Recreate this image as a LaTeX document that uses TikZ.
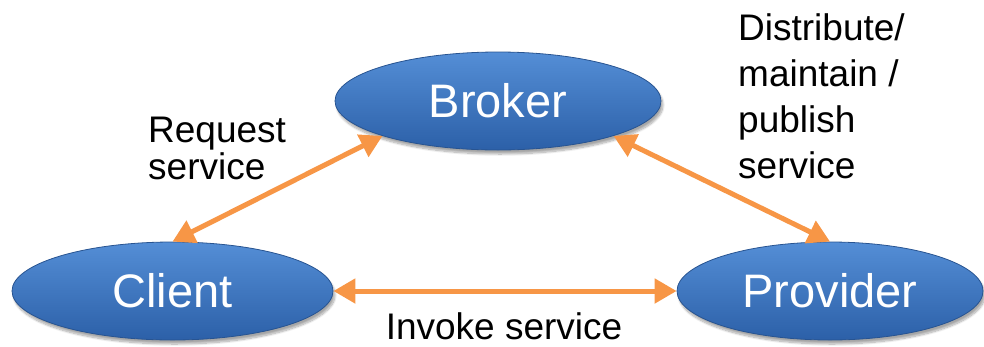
\documentclass[tikz,border=0pt]{standalone}
\usepackage{fontspec}
\setmainfont{Liberation Sans}
\usetikzlibrary{shapes.geometric,arrows.meta,shadows.blur}

\definecolor{roleTop}{RGB}{84,142,214}
\definecolor{roleBottom}{RGB}{44,96,168}
\definecolor{roleEdge}{RGB}{40,84,145}
\definecolor{linkOrange}{RGB}{247,150,70}

\tikzset{
  role/.style={ellipse, inner sep=0pt, draw=roleEdge, line width=0.8pt,
    top color=roleTop, bottom color=roleBottom, text=white,
    font=\fontsize{47}{56}\selectfont,
    blur shadow={shadow xshift=2pt, shadow yshift=-4pt, shadow blur steps=10, shadow opacity=35}},
  link/.style={linkOrange, line width=5pt,
    {Triangle[length=22pt,width=24pt]}-{Triangle[length=22pt,width=24pt]}},
  caption/.style={text=black, anchor=base west, inner sep=0pt}
}

\begin{document}
\begin{tikzpicture}[x=1pt, y=-1pt]
  \useasboundingbox (0,0) rectangle (984,346);

  % the three roles
  \node[role, minimum width=326pt, minimum height=98pt] (broker)   at (498,101) {Broker};
  \node[role, minimum width=321pt, minimum height=98pt] (client)   at (172.5,291) {Client};
  \node[role, minimum width=306pt, minimum height=98pt] (provider) at (830,291) {Provider};

  % interactions between them
  \draw[link] (client.north) -- (broker.south west);
  \draw[link] (broker.south east) -- (provider.north);
  \draw[link] (client.east) -- (provider.west);

  % captions (multi-line ones placed by the baseline of their last line)
  \node[caption, align=left, font=\fontsize{37}{37}\selectfont] (req) at (148,179) {Request\\service};
  \node[caption, align=left, font=\fontsize{37}{45.7}\selectfont] (dist) at (738,178) {Distribute/\\maintain /\\publish\\service};
  \node[caption, anchor=base, font=\fontsize{37}{44}\selectfont] (inv) at (504,339) {Invoke service};
\end{tikzpicture}
\end{document}
